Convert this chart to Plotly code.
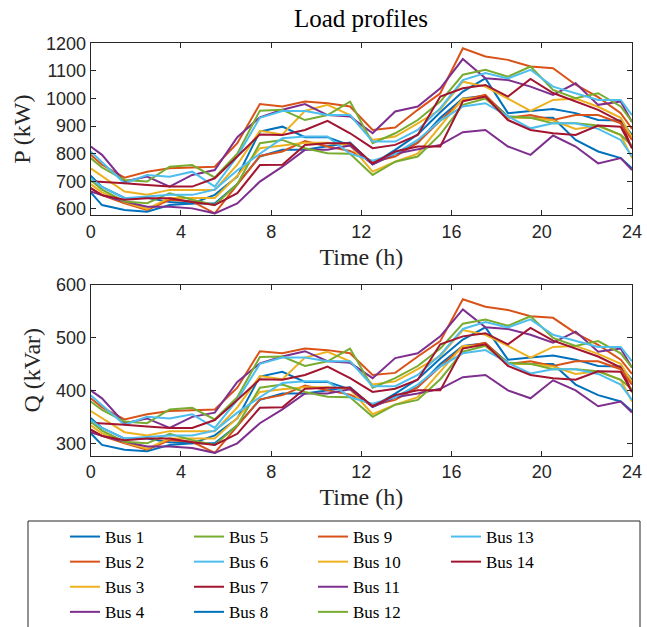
import plotly.graph_objects as go

# time stamps (h)
hours = [0, 0.5, 1.5, 2.5, 3.5, 4.5, 5.5, 6.5, 7.5, 8.5, 9.5, 10.5, 11.5, 12.5,
         13.5, 14.5, 15.5, 16.5, 17.5, 18.5, 19.5, 20.5, 21.5, 22.5, 23.5, 24]

bus_names = ["Bus 1", "Bus 2", "Bus 3", "Bus 4", "Bus 5", "Bus 6", "Bus 7",
             "Bus 8", "Bus 9", "Bus 10", "Bus 11", "Bus 12", "Bus 13", "Bus 14"]

# active power (kW)
p_bus1 = [720, 680, 640, 640, 625, 620, 651, 717, 880, 898, 860, 860, 830, 762, 814, 870, 950, 1025, 1073, 947, 955, 962, 947, 922, 920, 868]
p_bus2 = [796, 760, 713, 735, 747, 750, 753, 838, 980, 971, 989, 983, 971, 886, 895, 959, 1019, 1182, 1152, 1140, 1116, 1110, 1050, 1005, 947, 890]
p_bus3 = [747, 720, 663, 651, 669, 669, 669, 760, 883, 870, 955, 977, 940, 850, 862, 910, 960, 1061, 1043, 1000, 955, 995, 1000, 970, 930, 860]
p_bus4 = [826, 796, 699, 717, 681, 723, 741, 860, 932, 959, 980, 940, 935, 874, 953, 971, 1037, 1143, 1073, 1067, 1043, 1013, 1055, 977, 989, 915]
p_bus5 = [784, 750, 705, 699, 753, 759, 714, 800, 956, 959, 922, 940, 989, 838, 874, 922, 989, 1086, 1104, 1079, 1116, 1031, 1001, 1019, 971, 916]
p_bus6 = [808, 770, 693, 723, 717, 735, 681, 790, 930, 955, 955, 940, 940, 844, 844, 886, 965, 1067, 1092, 1073, 1104, 1043, 1020, 995, 995, 940]
p_bus7 = [700, 698, 693, 687, 681, 681, 711, 790, 870, 868, 886, 919, 874, 820, 832, 868, 1007, 1037, 1049, 1007, 1071, 1020, 989, 959, 916, 820]
p_bus8 = [660, 614, 596, 590, 614, 620, 620, 690, 790, 814, 814, 826, 840, 762, 800, 840, 930, 1000, 1010, 935, 930, 930, 850, 808, 784, 747]
p_bus9 = [675, 650, 620, 596, 633, 627, 584, 687, 792, 808, 846, 826, 810, 770, 790, 840, 920, 995, 1013, 930, 940, 922, 940, 940, 910, 850]
p_bus10 = [690, 660, 625, 600, 640, 640, 640, 720, 820, 830, 840, 840, 830, 735, 771, 800, 900, 1000, 1000, 930, 930, 920, 890, 900, 868, 784]
p_bus11 = [663, 650, 627, 608, 608, 602, 584, 620, 699, 753, 814, 814, 830, 762, 800, 815, 832, 878, 886, 826, 796, 866, 826, 765, 784, 741]
p_bus12 = [705, 670, 627, 621, 657, 633, 614, 690, 838, 850, 820, 802, 800, 723, 771, 790, 870, 977, 1000, 935, 930, 910, 910, 902, 868, 830]
p_bus13 = [711, 680, 639, 645, 651, 651, 670, 740, 800, 856, 862, 862, 800, 775, 800, 850, 920, 971, 983, 935, 892, 910, 910, 890, 850, 790]
p_bus14 = [675, 650, 633, 639, 639, 625, 614, 657, 759, 760, 832, 838, 838, 765, 808, 826, 826, 990, 1007, 922, 886, 874, 868, 902, 898, 820]

# reactive power (kVar)
q_bus1 = [349, 330, 310, 310, 303, 301, 316, 348, 427, 436, 417, 417, 403, 370, 395, 422, 461, 497, 520, 459, 463, 467, 459, 447, 446, 421]
q_bus2 = [386, 369, 346, 356, 362, 364, 365, 406, 475, 471, 480, 477, 471, 430, 434, 465, 494, 573, 559, 553, 541, 538, 509, 487, 459, 432]
q_bus3 = [362, 349, 322, 316, 324, 324, 324, 369, 428, 422, 463, 474, 456, 412, 418, 441, 466, 515, 506, 485, 463, 483, 485, 470, 451, 417]
q_bus4 = [401, 386, 339, 348, 330, 351, 359, 417, 452, 465, 475, 456, 453, 424, 462, 471, 503, 554, 520, 517, 506, 491, 512, 474, 480, 444]
q_bus5 = [380, 364, 342, 339, 365, 368, 346, 388, 464, 465, 447, 456, 480, 406, 424, 447, 480, 527, 535, 523, 541, 500, 485, 494, 471, 444]
q_bus6 = [392, 373, 336, 351, 348, 356, 330, 383, 451, 463, 463, 456, 456, 409, 409, 430, 468, 517, 530, 520, 535, 506, 495, 483, 483, 456]
q_bus7 = [340, 339, 336, 333, 330, 330, 345, 383, 422, 421, 430, 446, 424, 398, 404, 421, 488, 503, 509, 488, 519, 495, 480, 465, 444, 398]
q_bus8 = [320, 298, 289, 286, 298, 301, 301, 335, 383, 395, 395, 401, 407, 370, 388, 407, 451, 485, 490, 453, 451, 451, 412, 392, 380, 362]
q_bus9 = [327, 315, 301, 289, 307, 304, 283, 333, 384, 392, 410, 401, 393, 373, 383, 407, 446, 483, 491, 451, 456, 447, 456, 456, 441, 412]
q_bus10 = [335, 320, 303, 291, 310, 310, 310, 349, 398, 403, 407, 407, 403, 356, 374, 388, 437, 485, 485, 451, 451, 446, 432, 437, 421, 380]
q_bus11 = [322, 315, 304, 295, 295, 292, 283, 301, 339, 365, 395, 395, 403, 370, 388, 395, 404, 426, 430, 401, 386, 420, 401, 371, 380, 359]
q_bus12 = [342, 325, 304, 301, 319, 307, 298, 335, 406, 412, 398, 389, 388, 351, 374, 383, 422, 474, 485, 453, 451, 441, 441, 437, 421, 403]
q_bus13 = [345, 330, 310, 313, 316, 316, 325, 359, 388, 415, 418, 418, 388, 376, 388, 412, 446, 471, 477, 453, 433, 441, 441, 432, 412, 383]
q_bus14 = [327, 315, 307, 310, 310, 303, 298, 319, 368, 369, 404, 406, 406, 371, 392, 401, 401, 480, 488, 447, 430, 424, 421, 437, 436, 398]

p_all = [p_bus1, p_bus2, p_bus3, p_bus4, p_bus5, p_bus6, p_bus7,
         p_bus8, p_bus9, p_bus10, p_bus11, p_bus12, p_bus13, p_bus14]
q_all = [q_bus1, q_bus2, q_bus3, q_bus4, q_bus5, q_bus6, q_bus7,
         q_bus8, q_bus9, q_bus10, q_bus11, q_bus12, q_bus13, q_bus14]

# matlab default line colours
colors = ["#0072BD", "#D95319", "#EDB120", "#7E2F8E", "#77AC30", "#4DBEEE", "#A2142F"]

W, H = 647, 627
serif = "Liberation Serif, DejaVu Serif, serif"
sans = "Liberation Sans, Arial, sans-serif"
axcol = "#262626"

fig = go.Figure()

legend_ids = ["legend", "legend2", "legend3", "legend4"]

for i, name in enumerate(bus_names):
    col = colors[i % 7]
    fig.add_trace(go.Scatter(
        x=hours, y=p_all[i], mode="lines", name=name,
        line=dict(color=col, width=2),
        legend=legend_ids[i // 4],
        xaxis="x", yaxis="y"
    ))
for i, name in enumerate(bus_names):
    col = colors[i % 7]
    fig.add_trace(go.Scatter(
        x=hours, y=q_all[i], mode="lines", name=name,
        line=dict(color=col, width=2), showlegend=False,
        xaxis="x2", yaxis="y2"
    ))

x_dom = [90.7 / W, 632 / W]
p_dom = [1 - 215 / H, 1 - 43.3 / H]
q_dom = [1 - 455.5 / H, 1 - 285 / H]

axis_common = dict(
    showline=True, linecolor=axcol, linewidth=1, mirror="ticks",
    ticks="inside", ticklen=5, tickcolor=axcol, showgrid=False, zeroline=False,
    automargin=False,
    tickfont=dict(family=sans, size=18, color=axcol),
)

fig.update_layout(
    width=W, height=H,
    paper_bgcolor="white", plot_bgcolor="white",
    margin=dict(l=0, r=0, t=0, b=0, autoexpand=False),
    title=dict(text="Load profiles", x=361 / W, xanchor="center",
               y=1 - 18 / H, yanchor="middle",
               font=dict(family=serif, size=25, color="black")),
    xaxis=dict(domain=x_dom, anchor="y", range=[0, 24], tickvals=[0, 4, 8, 12, 16, 20, 24],
               title=dict(text="Time (h)", font=dict(family=serif, size=24, color=axcol), standoff=7),
               **axis_common),
    yaxis=dict(domain=p_dom, anchor="x", range=[578, 1200], tickvals=[600, 700, 800, 900, 1000, 1100, 1200],
               title=dict(text="P (kW)", font=dict(family=serif, size=24, color=axcol), standoff=8),
               **axis_common),
    xaxis2=dict(domain=x_dom, anchor="y2", range=[0, 24], tickvals=[0, 4, 8, 12, 16, 20, 24],
                title=dict(text="Time (h)", font=dict(family=serif, size=24, color=axcol), standoff=7),
                **axis_common),
    yaxis2=dict(domain=q_dom, anchor="x2", range=[278, 600], tickvals=[300, 400, 500, 600],
                title=dict(text="Q (kVar)", font=dict(family=serif, size=24, color=axcol), standoff=8),
                **axis_common),
)

# legend box
fig.add_shape(type="rect", xref="paper", yref="paper",
              x0=28 / W, x1=640 / W, y0=-0.05, y1=1 - 521 / H,
              line=dict(color="#262626", width=1), fillcolor="white", layer="below")

legend_x = [65, 189, 313, 446]
for lid, lx in zip(legend_ids, legend_x):
    fig.update_layout({lid: dict(
        x=lx / W, xanchor="left", y=1 - 519 / H, yanchor="top",
        orientation="v", bgcolor="rgba(0,0,0,0)", borderwidth=0,
        tracegroupgap=0, itemwidth=30,
        font=dict(family=serif, size=17, color="black"),
    )})

fig.write_html("out.html", config={"displayModeBar": False},
               post_script="document.body.style.margin='0';")
